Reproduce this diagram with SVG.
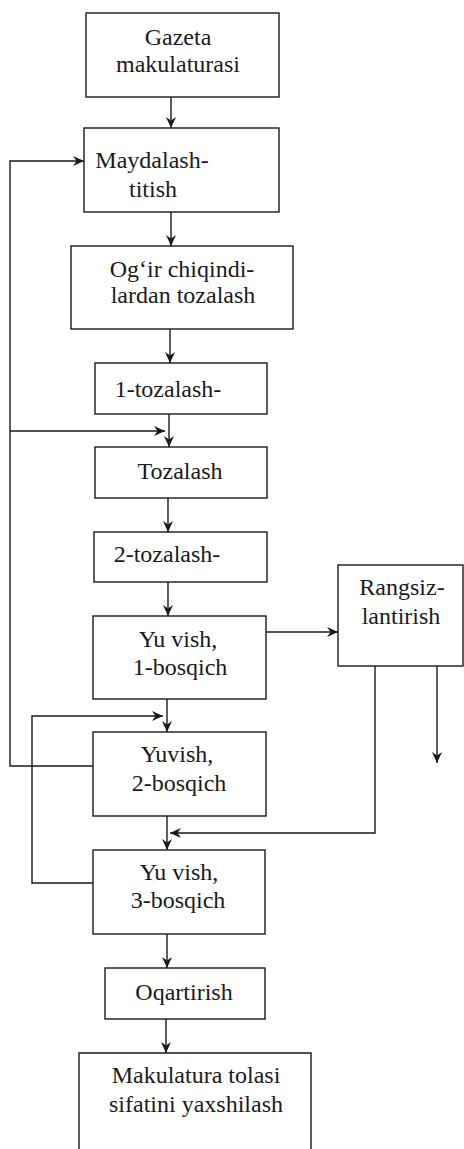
<svg xmlns="http://www.w3.org/2000/svg" width="464" height="1149" viewBox="0 0 464 1149">
<style>
.box{fill:#fff;stroke:#1a1a1a;stroke-width:1.4}
.ln{fill:none;stroke:#1a1a1a;stroke-width:1.4}
.t{font-family:'Liberation Serif','Times New Roman',serif;font-size:24px;fill:#1a1a1a;text-anchor:middle}
</style>
<defs>
<marker id="ah" markerUnits="userSpaceOnUse" markerWidth="14" markerHeight="12" refX="11" refY="5" orient="auto">
<path d="M0,0 L11,5 L0,10 L3.5,5 z" fill="#1a1a1a"/>
</marker>
</defs>
<rect width="464" height="1149" fill="#fff"/>
<g id="n1"><rect class="box" x="86" y="13" width="193" height="84"/><text class="t" x="178" y="45">Gazeta</text><text class="t" x="178" y="72">makulaturasi</text></g>
<g id="n2"><rect class="box" x="84" y="128" width="195" height="84"/><text class="t" x="152" y="168">Maydalash-</text><text class="t" x="153" y="197">titish</text></g>
<g id="n3"><rect class="box" x="71" y="246" width="222" height="83"/><text class="t" x="182" y="277">Og‘ir chiqindi-</text><text class="t" x="183" y="303">lardan tozalash</text></g>
<g id="n4"><rect class="box" x="95" y="363" width="172" height="51"/><text class="t" x="168" y="397">1-tozalash-</text></g>
<g id="n5"><rect class="box" x="95" y="447" width="172" height="51"/><text class="t" x="180" y="479">Tozalash</text></g>
<g id="n6"><rect class="box" x="94" y="532" width="173" height="50"/><text class="t" x="167" y="562">2-tozalash-</text></g>
<g id="n7"><rect class="box" x="93" y="616" width="173" height="83"/><text class="t" x="178" y="647">Yu vish,</text><text class="t" x="180" y="675">1-bosqich</text></g>
<g id="n8"><rect class="box" x="338" y="565" width="125" height="101"/><text class="t" x="402" y="595">Rangsiz-</text><text class="t" x="401" y="624">lantirish</text></g>
<g id="n9"><rect class="box" x="93" y="732" width="173" height="84"/><text class="t" x="177" y="762">Yuvish,</text><text class="t" x="179" y="791">2-bosqich</text></g>
<g id="n10"><rect class="box" x="93" y="850" width="172" height="84"/><text class="t" x="179" y="880">Yu vish,</text><text class="t" x="178" y="908">3-bosqich</text></g>
<g id="n11"><rect class="box" x="105" y="968" width="160" height="51"/><text class="t" x="184" y="1000">Oqartirish</text></g>
<g id="n12"><path class="box" d="M79,1149 V1053 H311 V1149"/><text class="t" x="196" y="1083">Makulatura tolasi</text><text class="t" x="196" y="1112">sifatini yaxshilash</text></g>
<g id="connectors">
<path class="ln" d="M171,97 V128" marker-end="url(#ah)"/>
<path class="ln" d="M171,212 V246" marker-end="url(#ah)"/>
<path class="ln" d="M170,329 V363" marker-end="url(#ah)"/>
<path class="ln" d="M169,414 V447" marker-end="url(#ah)"/>
<path class="ln" d="M93,766 H10 V161 H84" marker-end="url(#ah)"/>
<path class="ln" d="M10,431 H165" marker-end="url(#ah)"/>
<path class="ln" d="M168,498 V532" marker-end="url(#ah)"/>
<path class="ln" d="M168,582 V616" marker-end="url(#ah)"/>
<path class="ln" d="M266,632 H338" marker-end="url(#ah)"/>
<path class="ln" d="M167,699 V732" marker-end="url(#ah)"/>
<path class="ln" d="M93,883 H32 V716 H163" marker-end="url(#ah)"/>
<path class="ln" d="M167,816 V850" marker-end="url(#ah)"/>
<path class="ln" d="M375,666 V833 H170" marker-end="url(#ah)"/>
<path class="ln" d="M437,666 V763" marker-end="url(#ah)"/>
<path class="ln" d="M167,934 V968" marker-end="url(#ah)"/>
<path class="ln" d="M166,1019 V1053" marker-end="url(#ah)"/>
</g>
</svg>
